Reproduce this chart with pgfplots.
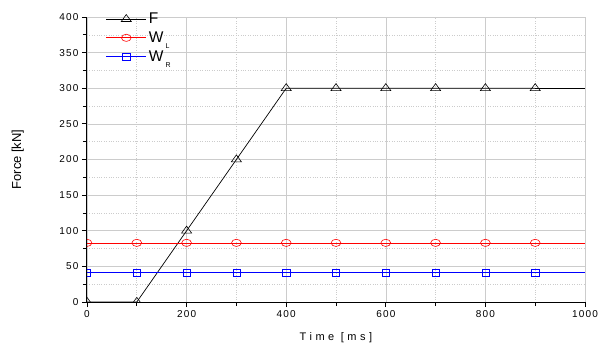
\documentclass[border=0pt]{standalone}
\usepackage{fontspec}
\setmainfont{Liberation Sans}
\newfontfamily\spaced[LetterSpace=12]{Liberation Sans}
\newfontfamily\wide[LetterSpace=32]{Liberation Sans}
\usepackage{pgfplots}
\pgfplotsset{compat=1.18}
\begin{document}
\begin{tikzpicture}[x=1pt,y=1pt]
\useasboundingbox (-87,-41) rectangle (523,302);
\begin{axis}[
  at={(0,0)}, anchor=south west,
  scale only axis, width=498pt, height=285pt,
  xmin=0, xmax=1000, ymin=0, ymax=400,
  axis x line*=bottom, axis y line*=left,
  axis line style={black, line width=1pt, -},
  xtick={0,200,...,1000}, minor xtick={100,300,...,900},
  ytick={0,50,...,400}, minor ytick={25,75,...,375},
  tick align=outside, major tick length=5pt, minor tick length=4pt,
  tick style={black, line width=0.8pt},
  grid=both,
  major grid style={gray!40, line width=0.6pt},
  minor grid style={gray!40, dotted, line width=0.6pt},
  /pgf/number format/assume math mode=true,
  /pgf/number format/1000 sep={},
  ticklabel style={font=\spaced\fontsize{10}{12}\selectfont},
  xlabel={Time [ms]}, ylabel={Force [kN]},
  xlabel style={font=\wide\fontsize{11}{13}\selectfont, at={(axis description cs:0.5,-0.124)}, anchor=center},
  ylabel style={font=\fontsize{13}{15}\selectfont, at={(axis description cs:-0.139,0.5)}, anchor=center},
  clip marker paths=true,
  legend style={at={(axis description cs:0.035,1.025)}, anchor=north west, draw=none, fill=none,
    font=\fontsize{15.5}{16}\selectfont, row sep=2.5pt, inner sep=1pt},
  legend cell align=left,
  legend image code/.code={\draw[#1, mark repeat=2, mark phase=2] plot coordinates {(0pt,0pt) (20pt,0pt) (40pt,0pt)};},
]
\addplot[black, draw=black, line width=0.7pt, mark=triangle, mark size=5.8pt, mark options={solid, fill=white, draw=black, line width=0.6pt, yscale=0.8}]
  coordinates {(0,0) (100,0) (200,100) (300,200) (400,300) (500,300) (600,300) (700,300) (800,300) (900,300)};
\addlegendentry{F}
\addplot[red, draw=red, line width=0.7pt, mark=o, mark size=3.6pt, mark options={solid, fill=white, draw=red, line width=0.6pt, xscale=1.35}]
  coordinates {(0,83) (100,83) (200,83) (300,83) (400,83) (500,83) (600,83) (700,83) (800,83) (900,83)};
\addlegendentry{W\raisebox{-0.8ex}{\fontsize{7}{8}\selectfont\ L}}
\addplot[blue, draw=blue, line width=1.3pt, mark=square, mark size=3.6pt, mark options={solid, fill=white, draw=blue, line width=0.6pt}]
  coordinates {(0,41.5) (100,41.5) (200,41.5) (300,41.5) (400,41.5) (500,41.5) (600,41.5) (700,41.5) (800,41.5) (900,41.5)};
\addlegendentry{W\raisebox{-0.8ex}{\fontsize{7}{8}\selectfont\ R}}
\addplot[black, line width=0.7pt, forget plot] coordinates {(900,300) (1000,300)};
\addplot[red, line width=0.7pt, forget plot] coordinates {(900,83) (1000,83)};
\addplot[blue, line width=1.3pt, forget plot] coordinates {(900,41.5) (1000,41.5)};
\end{axis}
\end{tikzpicture}
\end{document}
